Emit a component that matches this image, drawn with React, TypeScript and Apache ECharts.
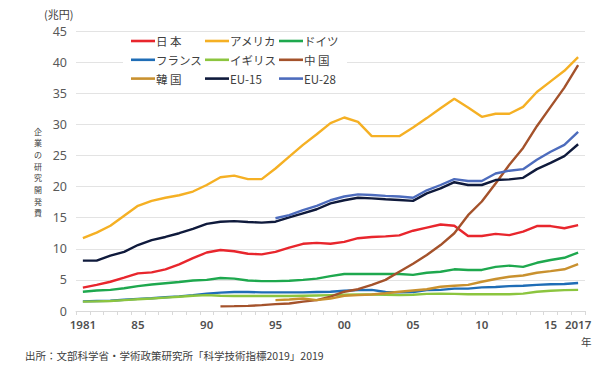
import React, { useEffect, useRef } from "react";
import * as echarts from "echarts";

const years: string[] = [];
for (let y = 1981; y <= 2017; y++) years.push(String(y));

const shownYears = ["1981", "1985", "1990", "1995", "2000", "2005", "2010", "2015", "2017"];
const yearLabels = ["1981", "85", "90", "95", "00", "05", "10", "15", "2017"];

const japan = [3.75, 4.2, 4.7, 5.35, 6.05, 6.2, 6.7, 7.5, 8.5, 9.4, 9.8, 9.6, 9.2, 9.1, 9.5, 10.2, 10.8, 10.95, 10.8, 11.1, 11.7, 11.9, 12.0, 12.15, 12.9, 13.4, 13.9, 13.7, 12.05, 12.05, 12.4, 12.2, 12.75, 13.65, 13.65, 13.3, 13.8];
const usa = [11.7, 12.6, 13.7, 15.3, 16.9, 17.7, 18.2, 18.6, 19.2, 20.25, 21.5, 21.75, 21.2, 21.2, 22.9, 24.8, 26.7, 28.4, 30.2, 31.1, 30.4, 28.1, 28.1, 28.1, 29.5, 31.0, 32.6, 34.1, 32.7, 31.2, 31.7, 31.7, 32.8, 35.2, 36.9, 38.6, 40.8];
const germany = [3.1, 3.3, 3.4, 3.65, 4.0, 4.25, 4.45, 4.65, 4.9, 5.0, 5.3, 5.2, 4.9, 4.8, 4.8, 4.85, 5.0, 5.2, 5.6, 5.95, 5.95, 5.95, 5.95, 5.95, 5.8, 6.15, 6.3, 6.7, 6.6, 6.6, 7.1, 7.3, 7.1, 7.75, 8.2, 8.55, 9.4];
const france = [1.55, 1.6, 1.65, 1.8, 1.95, 2.05, 2.2, 2.35, 2.55, 2.8, 2.95, 3.05, 3.05, 3.0, 3.0, 3.0, 3.0, 3.05, 3.1, 3.25, 3.35, 3.4, 3.05, 3.0, 3.05, 3.35, 3.4, 3.6, 3.6, 3.8, 3.85, 4.0, 4.05, 4.2, 4.3, 4.35, 4.5];
const uk = [1.5, 1.55, 1.6, 1.75, 1.9, 2.0, 2.15, 2.3, 2.45, 2.55, 2.45, 2.4, 2.4, 2.4, 2.4, 2.4, 2.45, 2.5, 2.55, 2.6, 2.65, 2.65, 2.6, 2.55, 2.6, 2.75, 2.8, 2.75, 2.7, 2.7, 2.7, 2.7, 2.8, 3.1, 3.25, 3.35, 3.4];
const china = [null, null, null, null, null, null, null, null, null, null, 0.75, 0.78, 0.82, 0.95, 1.1, 1.2, 1.5, 1.75, 2.3, 3.1, 3.5, 4.2, 5.0, 6.3, 7.6, 9.0, 10.6, 12.5, 15.4, 17.6, 20.5, 23.5, 26.2, 29.7, 32.8, 35.9, 39.5];
const korea = [null, null, null, null, null, null, null, null, null, null, null, null, null, null, 1.75, 1.85, 2.0, 1.75, 2.0, 2.45, 2.55, 2.65, 2.85, 3.1, 3.3, 3.5, 3.9, 4.05, 4.2, 4.7, 5.15, 5.5, 5.7, 6.15, 6.4, 6.7, 7.55];
const eu15 = [8.1, 8.1, 8.9, 9.5, 10.6, 11.4, 11.9, 12.5, 13.2, 14.0, 14.35, 14.45, 14.3, 14.2, 14.35, 15.05, 15.7, 16.35, 17.3, 17.8, 18.2, 18.1, 17.95, 17.85, 17.7, 18.9, 19.7, 20.7, 20.25, 20.25, 21.05, 21.15, 21.4, 22.8, 23.8, 24.9, 26.8];
const eu28 = [null, null, null, null, null, null, null, null, null, null, null, null, null, null, 14.9, 15.4, 16.2, 16.9, 17.8, 18.4, 18.75, 18.65, 18.5, 18.4, 18.2, 19.4, 20.25, 21.2, 20.9, 20.9, 22.1, 22.55, 22.8, 24.3, 25.6, 26.7, 28.8];

const seriesDefs = [
  { name: "日 本", data: japan, color: "#e8262d" },
  { name: "アメリカ", data: usa, color: "#f5b024" },
  { name: "ドイツ", data: germany, color: "#1ea84e" },
  { name: "フランス", data: france, color: "#1f6db6" },
  { name: "イギリス", data: uk, color: "#8cc53f" },
  { name: "中 国", data: china, color: "#a4522b" },
  { name: "韓 国", data: korea, color: "#c9912f" },
  { name: "EU-15", data: eu15, color: "#0f1a3c" },
  { name: "EU-28", data: eu28, color: "#4d6cbd" },
];

const legendCols = [
  ["日 本", "フランス", "韓 国"],
  ["アメリカ", "イギリス", "EU-15"],
  ["ドイツ", "中 国", "EU-28"],
];
const legendLefts = [131, 205, 279];

const yTitleChars = ["企", "業", "の", "研", "究", "開", "発", "費"];

const JP = '"Noto Sans CJK JP", "Noto Sans", sans-serif';

export default function App() {
  const ref = useRef<HTMLDivElement>(null);
  useEffect(() => {
    if (!ref.current) return;
    const chart = echarts.init(ref.current, null, { renderer: "svg" });
    chart.setOption({
      animation: false,
      backgroundColor: "#ffffff",
      grid: { left: 76, right: 15, top: 31, bottom: 65 },
      legend: legendCols.map((col, i) => ({
        data: col.map((n) => ({ name: n, icon: "rect" })),
        orient: "vertical",
        left: legendLefts[i],
        top: 35,
        padding: 0,
        itemWidth: 24,
        itemHeight: 2.6,
        itemGap: 6.8,
        z: 10,
        textStyle: { fontFamily: JP, fontSize: 11.5, lineHeight: 12, color: "#404040", padding: [0, 0, 0, -4] },
      })),
      graphic: [
        { type: "rect", z: 1, shape: { x: 123, y: 34, width: 224, height: 54 }, style: { fill: "#ffffff" } },
        { type: "text", left: 44, top: 8, style: { text: "(兆円)", fontFamily: JP, fontSize: 11, fill: "#404040" } },
        ...yTitleChars.map((c, i) => ({
          type: "text",
          x: 38,
          y: 131 + i * 11.7,
          style: { text: c, fontFamily: JP, fontSize: 8, fill: "#404040", align: "center", verticalAlign: "middle" },
        })),
        { type: "text", left: 581, top: 336, style: { text: "年", fontFamily: JP, fontSize: 10.5, fill: "#404040" } },
        {
          type: "text",
          left: 25,
          top: 350,
          style: { text: "出所：文部科学省・学術政策研究所「科学技術指標2019」2019", fontFamily: JP, fontSize: 10.5, fill: "#404040" },
        },
      ],
      xAxis: {
        type: "category",
        data: years,
        boundaryGap: true,
        axisLine: { show: true, lineStyle: { color: "#d9d9d9", width: 1 } },
        axisTick: { show: true, interval: 0, length: 4, lineStyle: { color: "#d9d9d9" } },
        axisLabel: {
          interval: (idx: number, val: string) => shownYears.indexOf(val) >= 0,
          formatter: (val: string) => {
            const k = shownYears.indexOf(val);
            return k >= 0 ? yearLabels[k] : "";
          },
          fontFamily: "Noto Sans",
          fontSize: 11.5,
          fontWeight: 600,
          color: "#505050",
          margin: 7,
        },
      },
      yAxis: {
        type: "value",
        min: 0,
        max: 45,
        interval: 5,
        axisLine: { show: false },
        axisTick: { show: false },
        splitLine: { lineStyle: { color: "#e3e3e3", width: 1 } },
        axisLabel: { fontFamily: "Noto Sans", fontSize: 12.5, color: "#595959", margin: 9 },
      },
      series: seriesDefs.map((s, i) => ({
        name: s.name,
        type: "line",
        data: s.data,
        symbol: "none",
        showSymbol: false,
        connectNulls: false,
        z: 3 + i,
        itemStyle: { color: s.color },
        lineStyle: { color: s.color, width: 2.4 },
      })),
    });
    return () => chart.dispose();
  }, []);
  return <div ref={ref} style={{ width: 600, height: 376, position: "absolute", left: 0, top: 0 }} />;
}
